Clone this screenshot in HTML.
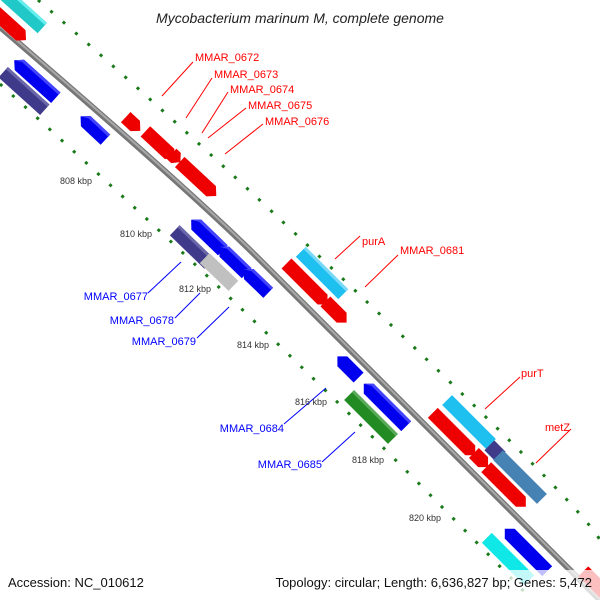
<!DOCTYPE html>
<html><head><meta charset="utf-8"><style>
body{margin:0;background:#fff;}
svg{display:block;font-family:"Liberation Sans","DejaVu Sans",sans-serif;}
</style></head><body>
<svg width="600" height="600" viewBox="0 0 600 600" xmlns="http://www.w3.org/2000/svg">
<path d="M38,0 Q130,80 223,166 T450,382 T600,540" fill="none" stroke="#1a7a1a" stroke-width="3" stroke-dasharray="3 13.5"/>
<path d="M0,84 Q75,152 150,222 T325,390 T536,604" fill="none" stroke="#1a7a1a" stroke-width="3" stroke-dasharray="3 13.5"/>
<path d="M0,27 Q190,190 260,260 L605,605" fill="none" stroke="#777" stroke-width="6"/>
<path d="M0,26 Q190,189 260,259 L605,604" fill="none" stroke="#a8a8a8" stroke-width="2"/>

<g id="genes">
<g transform="translate(20,8) rotate(42)"><rect x="-30" y="-7" width="60" height="14" fill="#20c8c8"/><rect x="-30" y="-7" width="60" height="3" fill="#6ee"/></g>
<g transform="translate(6,22) rotate(42)"><polygon points="-30,-7 20,-7 27,0 20,7 -30,7" fill="#e00"/></g>
<g transform="translate(35,79) rotate(42)"><polygon points="-28,0 -21,-7 28,-7 28,7 -21,7" fill="#00e"/><polygon points="-28,0 -21,-7 28,-7 28,-4 -21,-4" fill="#44f"/></g>
<g transform="translate(24,91) rotate(42)"><rect x="-28" y="-7" width="56" height="14" fill="#3f3a8a"/><rect x="-28" y="-7" width="56" height="3" fill="#6a66aa"/></g>
<g transform="translate(93,128) rotate(43)"><polygon points="-17,0 -10,-7 17,-7 17,7 -10,7" fill="#00e"/><polygon points="-17,0 -10,-7 17,-7 17,-4 -10,-4" fill="#44f"/></g>
<g transform="translate(133,124) rotate(43)"><polygon points="-10,-7 3,-7 10,0 3,7 -10,7" fill="#e00"/></g>
<g transform="translate(160,145) rotate(43)"><polygon points="-20,-7 13,-7 20,0 13,7 -20,7" fill="#e00"/></g>
<g transform="translate(176,158) rotate(43)"><polygon points="-6,-7 0,-7 6,0 0,7 -6,7" fill="#e00"/></g>
<g transform="translate(198,179) rotate(43)"><polygon points="-25,-7 18,-7 25,0 18,7 -25,7" fill="#e00"/></g>
<g transform="translate(192,247) rotate(44)"><rect x="-24" y="-7" width="48" height="14" fill="#3f3a8a"/><rect x="-24" y="-7" width="48" height="3" fill="#6a66aa"/></g>
<g transform="translate(207,235) rotate(44)"><polygon points="-22,0 -15,-7 22,-7 22,7 -15,7" fill="#00e"/><polygon points="-22,0 -15,-7 22,-7 22,-4 -15,-4" fill="#44f"/></g>
<g transform="translate(219,272) rotate(44)"><rect x="-20" y="-7" width="40" height="14" fill="#c0c0c0"/></g>
<g transform="translate(233,260) rotate(44)"><polygon points="-19,0 -12,-7 19,-7 19,7 -12,7" fill="#00e"/><polygon points="-19,0 -12,-7 19,-7 19,-4 -12,-4" fill="#44f"/></g>
<g transform="translate(256,281) rotate(44)"><polygon points="-17,0 -10,-7 17,-7 17,7 -10,7" fill="#00e"/><polygon points="-17,0 -10,-7 17,-7 17,-4 -10,-4" fill="#44f"/></g>
<g transform="translate(322,273) rotate(45)"><rect x="-30" y="-7" width="60" height="14" fill="#1ec0f0"/><rect x="-30" y="-7" width="60" height="3" fill="#7ad8f8"/></g>
<g transform="translate(307,284) rotate(45)"><polygon points="-29,-7 22,-7 29,0 22,7 -29,7" fill="#e00"/></g>
<g transform="translate(336,312) rotate(45)"><polygon points="-15,-7 8,-7 15,0 8,7 -15,7" fill="#e00"/></g>
<g transform="translate(348,367) rotate(45)"><polygon points="-15,0 -8,-7 15,-7 15,7 -8,7" fill="#00e"/></g>
<g transform="translate(385,405) rotate(45)"><polygon points="-30,0 -23,-7 30,-7 30,7 -23,7" fill="#00e"/><polygon points="-30,0 -23,-7 30,-7 30,-4 -23,-4" fill="#44f"/></g>
<g transform="translate(371,417) rotate(45)"><rect x="-31" y="-7" width="62" height="14" fill="#228b22"/><rect x="-31" y="-7" width="62" height="3" fill="#5aaa5a"/></g>
<g transform="translate(469,422) rotate(45)"><rect x="-31" y="-7" width="62" height="14" fill="#1ec0f0"/></g>
<g transform="translate(495,451) rotate(45)"><rect x="-8" y="-7" width="16" height="14" fill="#3f3a8a"/></g>
<g transform="translate(454,434) rotate(45)"><polygon points="-30,-7 23,-7 30,0 23,7 -30,7" fill="#e00"/></g>
<g transform="translate(481,460) rotate(45)"><polygon points="-10,-7 3,-7 10,0 3,7 -10,7" fill="#e00"/></g>
<g transform="translate(520,477) rotate(45)"><rect x="-31" y="-7" width="62" height="14" fill="#4682b4"/></g>
<g transform="translate(506,487) rotate(45)"><polygon points="-28,-7 21,-7 28,0 21,7 -28,7" fill="#e00"/></g>
<g transform="translate(508,559) rotate(45)"><rect x="-30" y="-7" width="60" height="14" fill="#10e8e8"/></g>
<g transform="translate(526,550) rotate(45)"><polygon points="-30,0 -23,-7 30,-7 30,7 -23,7" fill="#00e"/></g>
<g transform="translate(601,589) rotate(45)"><polygon points="-25,-7 18,-7 25,0 18,7 -25,7" fill="#e00"/></g>
</g>

<g stroke="#f00" stroke-width="1">
<line x1="162" y1="96" x2="193" y2="62"/>
<line x1="186" y1="118" x2="212" y2="78"/>
<line x1="202" y1="133" x2="228" y2="92"/>
<line x1="208" y1="138" x2="246" y2="108"/>
<line x1="225" y1="154" x2="263" y2="124"/>
<line x1="335" y1="259" x2="360" y2="236"/>
<line x1="365" y1="287" x2="398" y2="255"/>
<line x1="485" y1="409" x2="520" y2="377"/>
<line x1="536" y1="463" x2="571" y2="429"/>
</g>
<g stroke="#00f" stroke-width="1">
<line x1="148" y1="293" x2="181" y2="262"/>
<line x1="175" y1="318" x2="200" y2="293"/>
<line x1="197" y1="338" x2="229" y2="307"/>
<line x1="284" y1="424" x2="326" y2="388"/>
<line x1="322" y1="462" x2="355" y2="432"/>
</g>
<g font-size="11" fill="#f00">
<text x="195" y="61">MMAR_0672</text>
<text x="214" y="78">MMAR_0673</text>
<text x="230" y="93">MMAR_0674</text>
<text x="248" y="109">MMAR_0675</text>
<text x="265" y="125">MMAR_0676</text>
<text x="362" y="245">purA</text>
<text x="400" y="254">MMAR_0681</text>
<text x="521" y="377">purT</text>
<text x="545" y="431">metZ</text>
</g>
<g font-size="11" fill="#00f" text-anchor="end">
<text x="148" y="300">MMAR_0677</text>
<text x="174" y="324">MMAR_0678</text>
<text x="196" y="345">MMAR_0679</text>
<text x="284" y="432">MMAR_0684</text>
<text x="322" y="468">MMAR_0685</text>
</g>
<g font-size="9" fill="#333">
<text x="60" y="184">808 kbp</text>
<text x="120" y="237">810 kbp</text>
<text x="179" y="292">812 kbp</text>
<text x="237" y="348">814 kbp</text>
<text x="295" y="405">816 kbp</text>
<text x="352" y="463">818 kbp</text>
<text x="409" y="521">820 kbp</text>
</g>
<text x="300" y="23" font-size="14" font-style="italic" text-anchor="middle" fill="#222">Mycobacterium marinum M, complete genome</text>
<rect x="0" y="570" width="600" height="30" fill="#fff" opacity="0.75"/>
<text x="8" y="587" font-size="13" fill="#111">Accession: NC_010612</text>
<text x="592" y="587" font-size="13" fill="#111" text-anchor="end">Topology: circular; Length: 6,636,827 bp; Genes: 5,472</text>
</svg>
</body></html>
